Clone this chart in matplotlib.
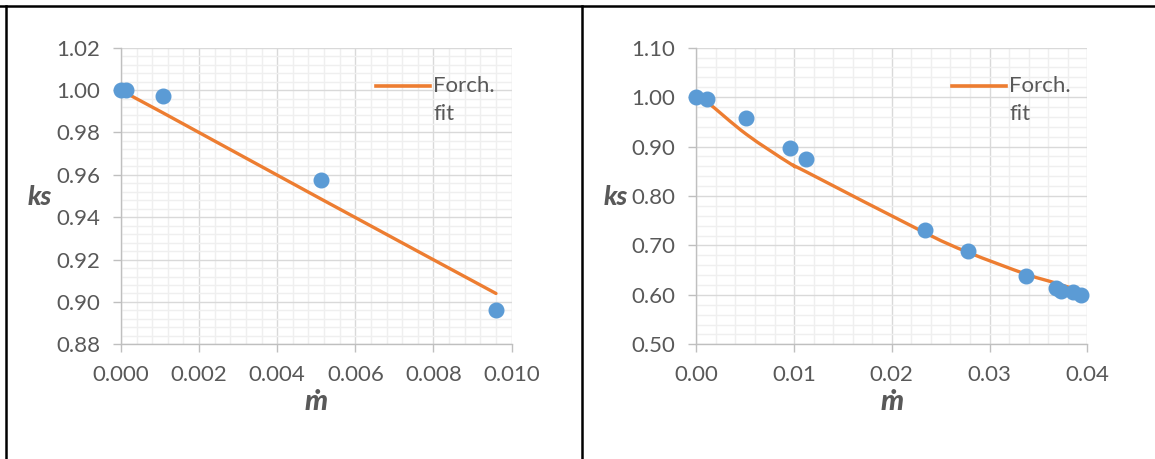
import matplotlib
matplotlib.use("Agg")
import matplotlib.pyplot as plt
import numpy as np
from matplotlib.path import Path
from matplotlib.patches import PathPatch
from matplotlib.lines import Line2D
from matplotlib.ticker import MultipleLocator, FormatStrFormatter

plt.rcParams['font.family'] = ['Lato', 'DejaVu Sans']

# Left panel: measured ks and Forchheimer fit
left_m = [0.0, 0.00012, 0.00107, 0.00513, 0.0096]
left_ks = [1.0, 1.0, 0.9973, 0.9576, 0.8963]
left_fit_m = [0.0, 0.00012, 0.00107, 0.00513, 0.0096]
left_fit_ks = [1.0, 0.9986, 0.9893, 0.9485, 0.904]

# Right panel
right_m = [0.0, 0.0011, 0.00511, 0.00957, 0.01124, 0.02335, 0.02781,
           0.03372, 0.03678, 0.03735, 0.03856, 0.03936]
right_ks = [1.0, 0.9969, 0.9577, 0.8964, 0.8742, 0.7312, 0.6888,
            0.6382, 0.6132, 0.6085, 0.6052, 0.5998]
right_fit_m = [0.0, 0.0011, 0.00511, 0.00957, 0.01124, 0.02335, 0.02781,
               0.03372, 0.03678, 0.03735, 0.03856, 0.03936]
right_fit_ks = [1.0, 0.990, 0.925, 0.866, 0.849, 0.726, 0.686,
                0.642, 0.624, 0.620, 0.613, 0.609]

BLUE = "#5B9BD5"
ORANGE = "#ED7D31"
TXT = "#595959"

W, H = 1155, 459
fig = plt.figure(figsize=(W / 100, H / 100), dpi=100)


def smooth_path(xs, ys):
    """Cubic Bezier path through the points (Catmull-Rom style smoothing)."""
    pts = np.column_stack([xs, ys]).astype(float)
    n = len(pts)
    verts = [pts[0]]
    codes = [Path.MOVETO]
    for i in range(n - 1):
        p0 = pts[i - 1] if i > 0 else pts[i]
        p1 = pts[i]
        p2 = pts[i + 1]
        p3 = pts[i + 2] if i + 2 < n else pts[i + 1]
        c1 = p1 + (p2 - p0) / 6.0
        c2 = p2 - (p3 - p1) / 6.0
        verts += [c1, c2, p2]
        codes += [Path.CURVE4] * 3
    return Path(verts, codes)


def panel(rect, mx, ks, fx, fks, xlim, ylim, xmaj, xmin, ymaj, ymin, xfmt, yfmt,
          ks_x, leg_x):
    ax = fig.add_axes(rect)
    ax.set_xlim(*xlim)
    ax.set_ylim(*ylim)
    ax.xaxis.set_major_locator(MultipleLocator(xmaj))
    ax.xaxis.set_minor_locator(MultipleLocator(xmin))
    ax.yaxis.set_major_locator(MultipleLocator(ymaj))
    ax.yaxis.set_minor_locator(MultipleLocator(ymin))
    ax.xaxis.set_major_formatter(FormatStrFormatter(xfmt))
    ax.yaxis.set_major_formatter(FormatStrFormatter(yfmt))
    ax.grid(which='minor', color='#efefef', lw=1.0, zorder=0)
    ax.grid(which='major', color='#d9d9d9', lw=1.0, zorder=0)
    ax.set_axisbelow(True)
    for s in ('top', 'right'):
        ax.spines[s].set_visible(False)
    for s in ('left', 'bottom'):
        ax.spines[s].set_color('#bfbfbf')
        ax.spines[s].set_linewidth(1.0)
    ax.tick_params(which='major', length=6, width=1.0, color='#bfbfbf',
                   labelcolor=TXT, labelsize=16, pad=9)
    ax.tick_params(which='minor', length=0)
    # fitted curve
    ax.add_patch(PathPatch(smooth_path(fx, fks), fill=False, edgecolor=ORANGE,
                           lw=2.4, zorder=2, capstyle='round'))
    ax.plot(mx, ks, 'o', color=BLUE, ms=10.5, mec=BLUE, zorder=3, clip_on=False)
    # legend entry
    fig.add_artist(Line2D([leg_x / W, (leg_x + 54) / W], [1 - 85.5 / H, 1 - 85.5 / H],
                          color=ORANGE, lw=2.6))
    fig.text((leg_x + 57) / W, 1 - 86 / H, "Forch.", color=TXT, fontsize=16,
             va='center', ha='left')
    fig.text((leg_x + 57) / W, 1 - 114 / H, "fit", color=TXT, fontsize=16,
             va='center', ha='left')
    # axis titles
    fig.text(ks_x / W, 1 - 197 / H, "ks", color=TXT, fontsize=19,
             fontweight='black', fontstyle='italic', ha='center', va='center')
    xc = (rect[0] + rect[0] + rect[2]) / 2
    fig.text(xc, 1 - 402 / H, "\u1e41", color=TXT, fontsize=21,
             fontweight='black', fontstyle='italic', ha='center', va='center')
    return ax


ay0 = 1 - 344.3 / H
ah = (344.3 - 47.7) / H
panel([121.0 / W, ay0, 390.6 / W, ah], left_m, left_ks, left_fit_m, left_fit_ks,
      (0, 0.010), (0.88, 1.02), 0.002, 0.0004, 0.02, 0.004, '%.3f', '%.2f',
      40, 376)
panel([696.3 / W, ay0, 391.0 / W, ah], right_m, right_ks, right_fit_m, right_fit_ks,
      (0, 0.04), (0.50, 1.10), 0.01, 0.002, 0.10, 0.02, '%.2f', '%.2f',
      616, 952)

# table cell borders
fig.add_artist(Line2D([0, 1], [1 - 5.5 / H, 1 - 5.5 / H], color='black', lw=1.8))
fig.add_artist(Line2D([6.3 / W, 6.3 / W], [0, 1 - 5.5 / H], color='black', lw=1.8))
fig.add_artist(Line2D([581.7 / W, 581.7 / W], [0, 1 - 5.5 / H], color='black', lw=1.8))

fig.savefig("out.png", dpi=100, facecolor='white')
